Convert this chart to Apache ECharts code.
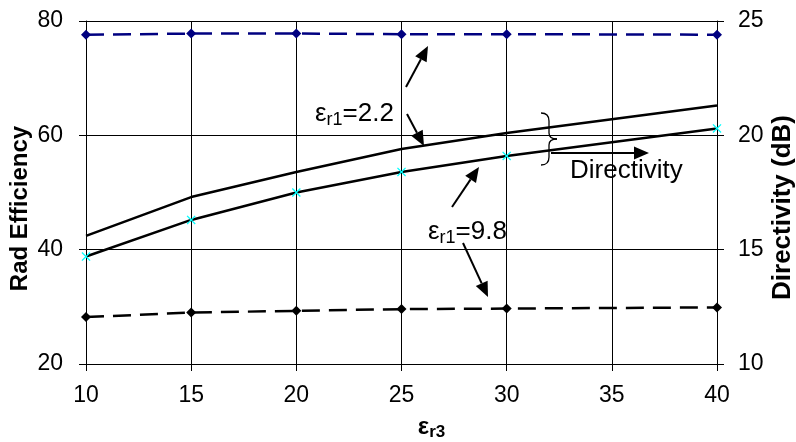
<!DOCTYPE html>
<html>
<head>
<meta charset="utf-8">
<script src="https://cdn.jsdelivr.net/npm/echarts@6/dist/echarts.min.js"></script>
<style>
  html, body { margin: 0; padding: 0; background: #fff; }
  #chart { width: 796px; height: 442px; }
</style>
</head>
<body>
<div id="chart"></div>
<script>
// eps_r3 values
var xVals = [10, 15, 20, 25, 30, 40];
// rad efficiency (left axis)
var effEr22 = [77.6, 77.8, 77.8, 77.7, 77.7, 77.6];
var effEr98 = [28.2, 29.0, 29.3, 29.6, 29.7, 29.9];
// directivity in dB (right axis)
var dirEr22 = [15.6, 17.3, 18.4, 19.4, 20.1, 21.3];
var dirEr98 = [14.7, 16.3, 17.5, 18.4, 19.1, 20.3];

var FONT = "'Liberation Sans', Arial, sans-serif";

function pairs(xs, ys) {
  var out = [];
  for (var i = 0; i < xs.length; i++) out.push([xs[i], ys[i]]);
  return out;
}

// arrow = shaft + filled head, in pixels
function arrow(x1, y1, x2, y2) {
  var len = 15, half = 6.5;
  var dx = x2 - x1, dy = y2 - y1;
  var d = Math.sqrt(dx * dx + dy * dy);
  var ux = dx / d, uy = dy / d;
  var bx = x2 - ux * len, by = y2 - uy * len;
  return [
    { type: 'line', silent: true, shape: { x1: x1, y1: y1, x2: bx, y2: by },
      style: { stroke: '#000', lineWidth: 2 } },
    { type: 'polygon', silent: true,
      shape: { points: [[x2, y2], [bx - uy * half, by + ux * half], [bx + uy * half, by - ux * half]] },
      style: { fill: '#000' } }
  ];
}

function seg(x1, y1, x2, y2) {
  return { type: 'line', silent: true, shape: { x1: x1, y1: y1, x2: x2, y2: y2 },
    style: { stroke: '#000', lineWidth: 1.3 } };
}
function curve(x1, y1, cx, cy, x2, y2) {
  return { type: 'bezierCurve', silent: true,
    shape: { x1: x1, y1: y1, x2: x2, y2: y2, cpx1: cx, cpy1: cy },
    style: { stroke: '#000', lineWidth: 1.3, fill: null } };
}

var richEps = {
  e: { fontSize: 26, fontFamily: FONT, lineHeight: 30 },
  s: { fontSize: 18, fontFamily: FONT, lineHeight: 14, verticalAlign: 'bottom' },
  n: { fontSize: 26, fontFamily: FONT, lineHeight: 30 }
};

function label(x, y, txt) {
  return { type: 'text', silent: true, left: x, top: y,
    style: { text: txt, rich: richEps, fill: '#000' } };
}

var graphics = [];
graphics = graphics
  .concat(arrow(406, 87, 428, 46))
  .concat(arrow(407, 114, 424, 146))
  .concat(arrow(452, 207, 479, 167))
  .concat(arrow(463, 243, 488, 297))
  .concat(arrow(551, 153, 649, 153));
graphics.push(label(315, 101, '{e|ε}{s|r1}{n|=2.2}'));
graphics.push(label(428, 219, '{e|ε}{s|r1}{n|=9.8}'));
graphics.push(label(570, 158, '{n|Directivity}'));
// brace
graphics.push(curve(541, 113, 549, 113, 549, 121));
graphics.push(seg(549, 121, 549, 133));
graphics.push(curve(549, 133, 549, 139, 557, 139));
graphics.push(curve(557, 139, 549, 139, 549, 145));
graphics.push(seg(549, 145, 549, 157));
graphics.push(curve(549, 157, 549, 165, 541, 165));

var chart = echarts.init(document.getElementById('chart'));
var option = {
  animation: false,
  backgroundColor: '#fff',
  grid: { left: 86, right: 79, top: 21, bottom: 78, containLabel: false, outerBoundsMode: 'none' },
  xAxis: {
    type: 'value', min: 10, max: 40, interval: 5,
    name: '{e|ε}{s|r3}', nameLocation: 'middle', nameGap: 49, nameMoveOverlap: false,
    nameTextStyle: {
      padding: [0, 0, 0, 60],
      rich: {
        e: { fontSize: 24, fontWeight: 'bold', fontFamily: FONT, color: '#000', lineHeight: 28 },
        s: { fontSize: 17, fontWeight: 'bold', fontFamily: FONT, color: '#000', lineHeight: 14, verticalAlign: 'bottom' }
      }
    },
    axisLine: { lineStyle: { color: '#000', width: 1 } },
    axisTick: { inside: false, length: 7, lineStyle: { color: '#000' } },
    axisLabel: { color: '#000', fontSize: 23, fontFamily: FONT, margin: 20 },
    splitLine: { show: true, lineStyle: { color: '#000', width: 1 } }
  },
  yAxis: [{
    type: 'value', min: 20, max: 80, interval: 20,
    name: 'Rad Efficiency', nameLocation: 'middle', nameGap: 54, nameRotate: 90,
    nameMoveOverlap: false,
    nameTextStyle: { color: '#000', fontSize: 24, fontWeight: 'bold', fontFamily: FONT,
      padding: [0, 32, 0, 0] },
    axisLine: { show: true, lineStyle: { color: '#000', width: 1 } },
    axisTick: { show: true, length: 7, lineStyle: { color: '#000' } },
    axisLabel: { color: '#000', fontSize: 23, fontFamily: FONT, margin: 23 },
    splitLine: { show: true, lineStyle: { color: '#000', width: 1 } }
  }, {
    type: 'value', min: 10, max: 25, interval: 5, position: 'right',
    name: 'Directivity (dB)', nameLocation: 'middle', nameGap: 53, nameRotate: 90,
    nameMoveOverlap: false,
    nameTextStyle: { color: '#000', fontSize: 26, fontWeight: 'bold', fontFamily: FONT,
      padding: [0, 30, 0, 0] },
    axisLine: { show: true, lineStyle: { color: '#000', width: 1 } },
    axisTick: { show: true, length: 7, lineStyle: { color: '#000' } },
    axisLabel: { color: '#000', fontSize: 23, fontFamily: FONT, margin: 21 },
    splitLine: { show: false }
  }],
  series: [{
    name: 'Rad Eff er1=2.2', type: 'line', yAxisIndex: 0,
    data: pairs(xVals, effEr22),
    symbol: 'diamond', symbolSize: 10,
    itemStyle: { color: '#000080' },
    lineStyle: { color: '#000080', width: 2.5, type: [18, 9] }
  }, {
    name: 'Rad Eff er1=9.8', type: 'line', yAxisIndex: 0,
    data: pairs(xVals, effEr98),
    symbol: 'diamond', symbolSize: 10,
    itemStyle: { color: '#000' },
    lineStyle: { color: '#000', width: 2.5, type: [18, 9] }
  }, {
    name: 'Directivity er1=2.2', type: 'line', yAxisIndex: 1,
    data: pairs(xVals, dirEr22),
    showSymbol: false, symbol: 'none',
    lineStyle: { color: '#000', width: 2.5 }
  }, {
    name: 'Directivity er1=9.8', type: 'line', yAxisIndex: 1,
    data: pairs(xVals, dirEr98),
    symbol: 'path://M0,1L1,0L5,4L9,0L10,1L6,5L10,9L9,10L5,6L1,10L0,9L4,5Z',
    symbolSize: 9,
    itemStyle: { color: '#00FFFF' },
    lineStyle: { color: '#000', width: 2.5 },
    z: 3
  }],
  graphic: graphics
};
chart.setOption(option);
</script>
</body>
</html>
